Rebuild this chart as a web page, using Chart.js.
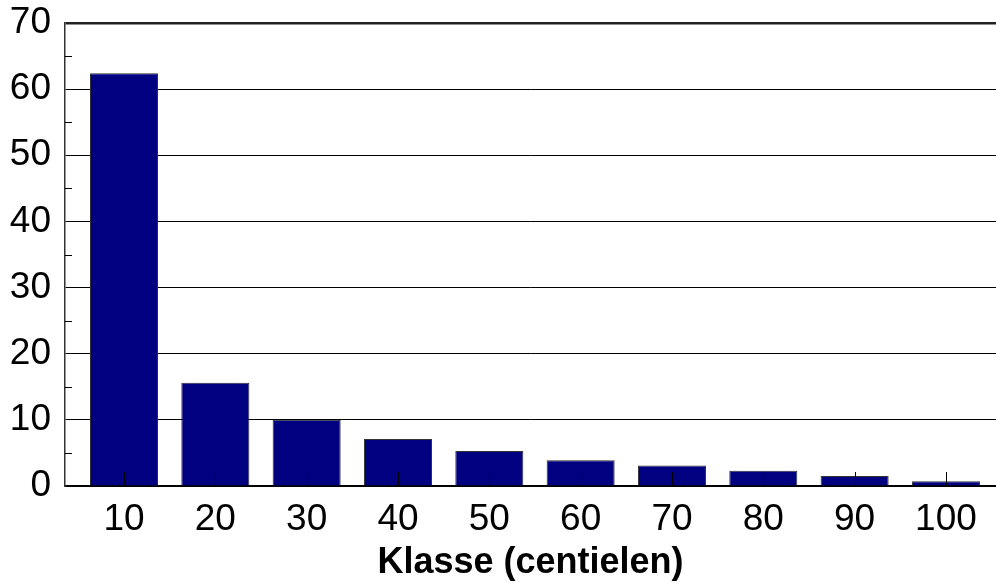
<!DOCTYPE html>
<html>
<head>
<meta charset="utf-8">
<script src="https://cdn.jsdelivr.net/npm/chart.js@4"></script>
<style>
  html, body { margin: 0; padding: 0; background: #fff; }
  canvas { display: block; }
</style>
</head>
<body>
<canvas id="chart" width="996" height="583"></canvas>
<script>
// Chart data
const categories = [10, 20, 30, 40, 50, 60, 70, 80, 90, 100];
const values = [62.4, 15.6, 10.0, 7.1, 5.3, 3.9, 3.1, 2.3, 1.5, 0.7];
const yMajorTicks = [0, 10, 20, 30, 40, 50, 60, 70];
const yMinorTicks = [5, 15, 25, 35, 45, 55, 65];
const xTitle = "Klasse (centielen)";

// Short tick marks drawn inside the plot area (over the bars)
const innerTicks = {
    id: "innerTicks",
    afterDatasetsDraw(chart) {
        const { ctx, chartArea, scales } = chart;
        ctx.save();
        ctx.strokeStyle = "#000";
        ctx.lineWidth = 1;
        ctx.beginPath();
        categories.forEach(c => {
            const px = Math.round(scales.x.getPixelForValue(c)) + 0.5;
            ctx.moveTo(px, chartArea.bottom);
            ctx.lineTo(px, chartArea.bottom - 14);
        });
        yMinorTicks.forEach(v => {
            const py = Math.round(scales.y.getPixelForValue(v)) + 0.5;
            ctx.moveTo(chartArea.left, py);
            ctx.lineTo(chartArea.left + 7, py);
        });
        ctx.stroke();
        ctx.restore();
    }
};

const ctx = document.getElementById("chart").getContext("2d");

new Chart(ctx, {
    type: "bar",
    data: {
        datasets: [{
            data: categories.map((c, i) => ({ x: c, y: values[i] })),
            backgroundColor: "#000080",
            borderColor: "#333",
            borderWidth: 1,
            barPercentage: 0.745,
            categoryPercentage: 1
        }]
    },
    options: {
        responsive: false,
        animation: false,
        layout: { padding: { top: 23, right: 0, left: 0, bottom: 0 } },
        plugins: {
            legend: { display: false },
            tooltip: { enabled: false }
        },
        scales: {
            x: {
                type: "linear",
                offset: false,
                min: 3.54,
                max: 105.48,
                afterBuildTicks: scale => {
                    scale.ticks = categories.map(v => ({ value: v }));
                },
                afterFit: scale => { scale.height = 97; },
                grid: { display: false, drawTicks: false },
                border: { display: true, color: "#000", width: 1.5 },
                ticks: {
                    padding: 12,
                    color: "#000",
                    maxRotation: 0,
                    autoSkip: false,
                    font: { family: "'Liberation Sans', Arial, sans-serif", size: 37 }
                },
                title: {
                    display: true,
                    text: xTitle,
                    color: "#000",
                    padding: { top: 0, bottom: 0 },
                    font: { family: "'Liberation Sans', Arial, sans-serif", size: 36, weight: "bold", lineHeight: 1.1 }
                }
            },
            y: {
                min: 0,
                max: 70,
                afterBuildTicks: scale => {
                    scale.ticks = yMajorTicks.map(v => ({ value: v }));
                },
                afterFit: scale => {
                    scale.width = 65;
                    scale.paddingTop = 0;
                    scale.paddingBottom = 0;
                },
                grid: {
                    drawTicks: false,
                    color: c => (c.tick && c.tick.value === 70) ? "#222" : "#000",
                    lineWidth: c => (c.tick && c.tick.value === 70) ? 2.5 : 1
                },
                border: { display: true, color: "#333", width: 1.5 },
                ticks: {
                    padding: 14,
                    color: "#000",
                    font: { family: "'Liberation Sans', Arial, sans-serif", size: 37 }
                }
            }
        }
    },
    plugins: [innerTicks]
});
</script>
</body>
</html>
